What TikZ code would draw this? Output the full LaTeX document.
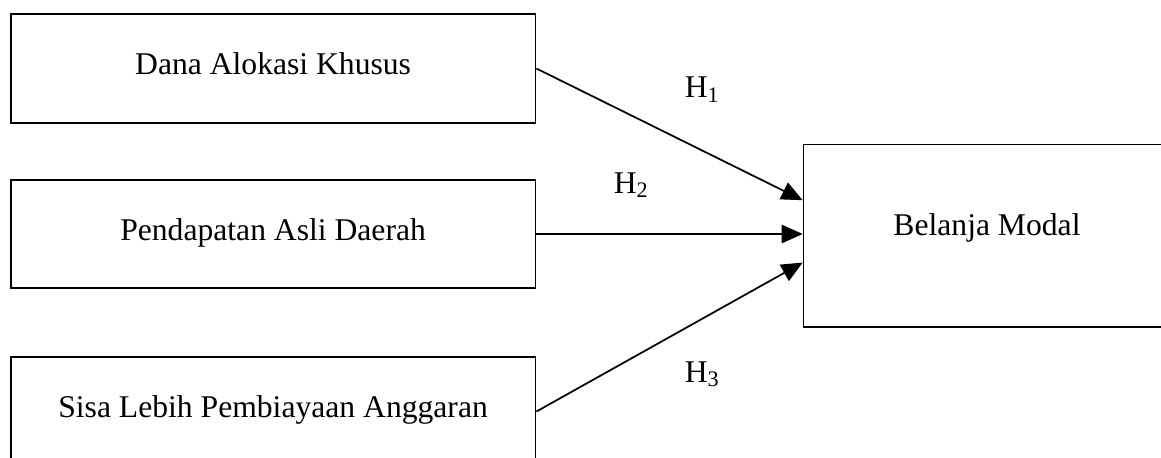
\documentclass[tikz,border=0pt]{standalone}
\usepackage{fontspec}
\setmainfont{Liberation Serif}
\usetikzlibrary{arrows.meta}

\begin{document}
\begin{tikzpicture}[x=0.02cm, y=-0.02cm, line width=1pt, >={Triangle[length=12pt,width=10.5pt]},
  font=\fontsize{18}{22}\selectfont,
  box/.style={shape=rectangle,draw=black,minimum width=10.5cm,minimum height=2.17cm,text height=0.72em,text depth=0pt}]
\useasboundingbox (0,0) rectangle (1161,457);
\node[box] (1) at (273.1,68.5) {Dana Alokasi Khusus};
\node[box] (2) at (273.1,234) {Pendapatan Asli Daerah};
\node[box] (3) at (273.1,411.5) {Sisa Lebih Pembiayaan Anggaran};
\node[box,minimum width=7.34cm,minimum height=3.65cm,text depth=0.72em] (4) at (987,235.7) {Belanja Modal};
\node[anchor=base west,inner sep=0pt] (h1) at (684,97.7) {H\textsubscript{1}};
\node[anchor=base west,inner sep=0pt] (h2) at (613,193) {H\textsubscript{2}};
\node[anchor=base west,inner sep=0pt] (h3) at (684,382) {H\textsubscript{3}};
\draw[->] (1.east) -- ([yshift=20.2pt]4.west);
\draw[->] (2.east) -- (2.east -| 4.west);
\draw[->] (3.east) -- ([yshift=-15.3pt]4.west);
\end{tikzpicture}
\end{document}
